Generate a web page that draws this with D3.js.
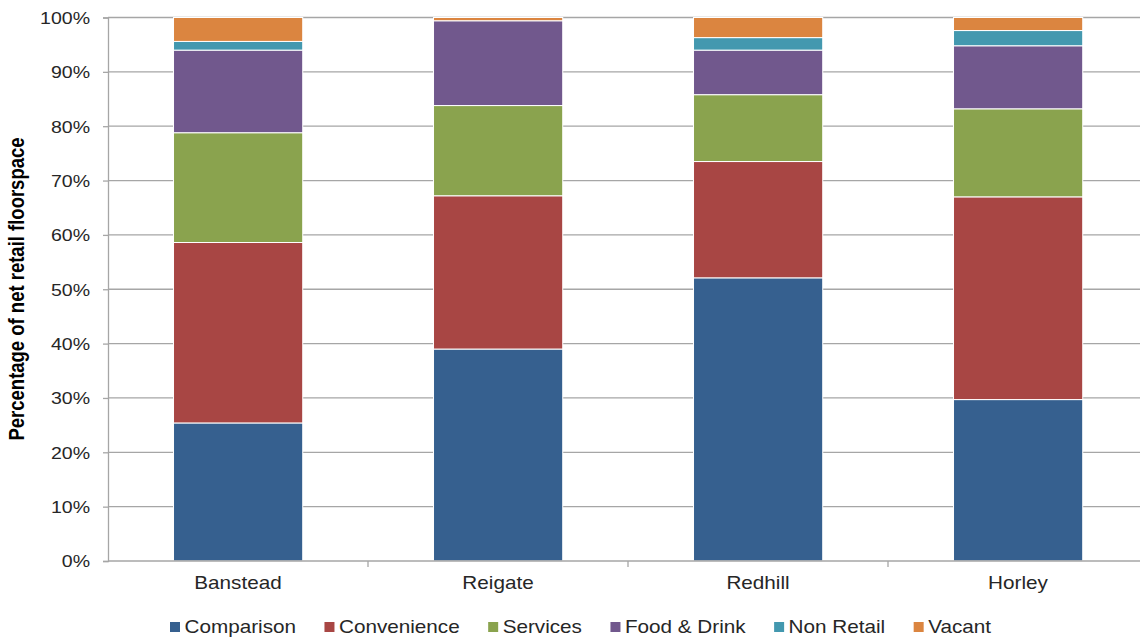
<!DOCTYPE html>
<html>
<head>
<meta charset="utf-8">
<script src="https://cdn.jsdelivr.net/npm/d3@7"></script>
<style>
  html, body { margin: 0; padding: 0; background: #fff; }
  svg { display: block; font-family: "Liberation Sans", Arial, sans-serif; }
</style>
</head>
<body>
<svg id="chart" width="1140" height="638"></svg>
<script>
// Town centres and floorspace categories
const towns = ["Banstead", "Reigate", "Redhill", "Horley"];
const uses = ["Comparison", "Convenience", "Services", "Food & Drink", "Non Retail", "Vacant"];
const useColors = ["#36608f", "#a84644", "#8aa34e", "#71588d", "#4398af", "#db8540"];

// Share of net retail floorspace (%) per town, one array per use
const comparison  = [25.4, 39.0, 52.1, 29.7];
const convenience = [33.2, 28.2, 21.4, 37.3];
const services    = [20.2, 16.6, 12.3, 16.2];
const foodDrink   = [15.2, 15.6,  8.2, 11.6];
const nonRetail   = [ 1.6,  0.0,  2.3,  2.8];
const vacant      = [ 4.4,  0.6,  3.7,  2.4];

const yTicks = [0, 10, 20, 30, 40, 50, 60, 70, 80, 90, 100];

const seriesValues = [comparison, convenience, services, foodDrink, nonRetail, vacant];
const rows = towns.map((t, i) => {
  const r = { town: t };
  uses.forEach((u, k) => { r[u] = seriesValues[k][i]; });
  return r;
});

const svg = d3.select("#chart");
const plotLeft = 108, plotRight = 1148, plotTop = 17.5, plotBottom = 561;
const SX = 1.15; // horizontal text stretch
const textColor = "#262626";
const gridColor = "#a6a6a6";

const x = d3.scaleBand().domain(towns).range([plotLeft, plotRight]).padding(0);
const y = d3.scaleLinear().domain([0, 100]).range([plotBottom, plotTop]);

// Gridlines
svg.append("g")
  .selectAll("line")
  .data(yTicks.filter(d => d > 0))
  .join("line")
  .attr("x1", plotLeft).attr("x2", 1140)
  .attr("y1", d => y(d)).attr("y2", d => y(d))
  .attr("stroke", gridColor).attr("stroke-width", 1.3);

// Stacked bars
const stacked = d3.stack().keys(uses)(rows);
const bw = x.bandwidth();
svg.append("g")
  .selectAll("g")
  .data(stacked)
  .join("g")
  .attr("fill", (d, i) => useColors[i])
  .selectAll("rect")
  .data(d => d)
  .join("rect")
  .attr("x", d => x(d.data.town) + bw * 0.252)
  .attr("width", bw * 0.497)
  .attr("y", d => y(d[1]))
  .attr("height", d => Math.max(0, y(d[0]) - y(d[1])))
  .attr("stroke", "#ffffff")
  .attr("stroke-width", 1);

// Y axis
const yAxis = svg.append("g")
  .attr("transform", `translate(${plotLeft},0)`)
  .call(d3.axisLeft(y).tickValues(yTicks).tickSize(5).tickFormat(d => d + "%"));
yAxis.select(".domain").attr("stroke", gridColor).attr("stroke-width", 1.3);
yAxis.selectAll(".tick line").attr("stroke", gridColor).attr("stroke-width", 1.3);
yAxis.selectAll(".tick text").remove();
yAxis.selectAll(".tick")
  .append("text")
  .attr("transform", `translate(-18,0) scale(${SX},1)`)
  .attr("text-anchor", "end")
  .attr("dy", "0.35em")
  .attr("fill", textColor)
  .style("font-size", "17px")
  .text(d => d + "%");

// X axis line and category boundary ticks
svg.append("line")
  .attr("x1", plotLeft).attr("x2", 1140)
  .attr("y1", plotBottom).attr("y2", plotBottom)
  .attr("stroke", gridColor).attr("stroke-width", 1.3);
svg.append("g")
  .selectAll("line")
  .data(towns.slice(1))
  .join("line")
  .attr("x1", d => x(d)).attr("x2", d => x(d))
  .attr("y1", plotBottom).attr("y2", plotBottom + 6)
  .attr("stroke", gridColor).attr("stroke-width", 1.3);

// Category labels
svg.append("g")
  .selectAll("text")
  .data(towns)
  .join("text")
  .attr("transform", d => `translate(${x(d) + bw * 0.5},589) scale(${SX},1)`)
  .attr("text-anchor", "middle")
  .attr("fill", textColor)
  .style("font-size", "18px")
  .text(d => d);

// Y axis title
svg.append("text")
  .attr("transform", `translate(24,289) scale(${SX},1) rotate(-90)`)
  .attr("text-anchor", "middle")
  .attr("fill", "#000")
  .style("font-size", "18.5px")
  .style("font-weight", "bold")
  .text("Percentage of net retail floorspace");

// Legend
const legend = svg.append("g");
let lx = 170;
uses.forEach((u, i) => {
  legend.append("rect")
    .attr("x", lx).attr("y", 622)
    .attr("width", 10).attr("height", 10)
    .attr("fill", useColors[i]);
  const t = legend.append("text")
    .attr("transform", `translate(${lx + 14.5},633) scale(${SX},1)`)
    .attr("fill", textColor)
    .style("font-size", "18px")
    .text(u);
  const w = t.node().getComputedTextLength() * SX;
  lx += 14.5 + w + 28.5;
});
</script>
</body>
</html>
